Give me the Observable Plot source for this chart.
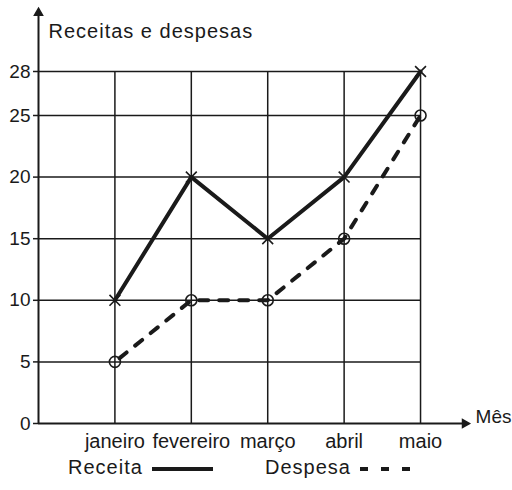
<!DOCTYPE html>
<html>
<head>
<meta charset="utf-8">
<script src="https://cdn.jsdelivr.net/npm/d3@7"></script>
<script src="https://cdn.jsdelivr.net/npm/@observablehq/plot@0.6"></script>
<style>
  body { margin: 0; background: #fff; font-family: "Liberation Sans", Arial, sans-serif; }
  #chart svg { display: block; }
  #legend { position: relative; width: 512px; height: 38px; color: #1a1a1a; font-size: 20px; letter-spacing: 1px; }
  #legend .item { position: absolute; top: 4px; display: flex; align-items: center; }
  #legend svg { display: block; margin-left: 9px; }
</style>
</head>
<body>
<div id="chart"></div>
<div id="legend"></div>
<script>
// ---- data ----
const months = ["janeiro", "fevereiro", "março", "abril", "maio"];
const receita = [10, 20, 15, 20, 28];
const despesa = [5, 10, 10, 15, 25];
const yTicks = [0, 5, 10, 15, 20, 25, 28];
const gridY = [5, 10, 15, 20, 25, 28];
const monthIdx = [0, 1, 2, 3, 4];
const title = "Receitas e despesas";
const xLabel = "Mês";
const legendLabels = ["Receita", "Despesa"];
const axisXStart = -1, axisXEnd = 4.55, arrowX = 4.58, xLabelPos = 4.72;
const axisYEnd = 32, arrowY = 32, titleY = 30.7;

const data = months.map((m, i) => ({i, m, receita: receita[i], despesa: despesa[i]}));

const ink = "#1a1a1a";
const font = '"Liberation Sans", Arial, sans-serif';

const chart = Plot.plot({
  width: 512,
  height: 452,
  marginLeft: 38,
  marginRight: 42,
  marginTop: 5,
  marginBottom: 29,
  style: {fontFamily: font, color: ink, background: "white"},
  x: {type: "linear", domain: [-1, 4.65], range: [38, 469.7]},
  y: {type: "linear", domain: [0, 25, 28, 32.5], range: [423, 115, 71, 5]},
  marks: [
    // grid
    Plot.ruleY(gridY, {x1: axisXStart, x2: 4, stroke: ink, strokeWidth: 1.5}),
    Plot.ruleX(monthIdx, {y1: 0, y2: 28, stroke: ink, strokeWidth: 1.5}),
    // axes lines
    Plot.ruleY([0], {x1: axisXStart, x2: axisXEnd, stroke: ink, strokeWidth: 2}),
    Plot.ruleX([axisXStart], {y1: 0, y2: axisYEnd, stroke: ink, strokeWidth: 2}),
    Plot.dot([0], {x: arrowX, y: 0, symbol: "triangle", r: 3, fill: ink, stroke: ink, rotate: 90}),
    Plot.dot([0], {x: axisXStart, y: arrowY, symbol: "triangle", r: 3, fill: ink, stroke: ink}),
    // axes
    Plot.axisY({ticks: yTicks, tickSize: 5, tickPadding: 3, fontSize: 19, label: null, stroke: ink, strokeWidth: 1.5}),
    Plot.axisX({ticks: monthIdx, tickFormat: i => months[i], tickSize: 0, tickPadding: 10, fontSize: 20, label: null}),
    Plot.text([xLabel], {x: xLabelPos, y: 0, text: d => d, textAnchor: "start", dy: -7, fontSize: 19, fill: ink}),
    Plot.text([title], {x: axisXStart, y: titleY, text: d => d, textAnchor: "start", dx: 10, fontSize: 20, fill: ink}),
    // series
    Plot.line(data, {x: "i", y: "despesa", stroke: ink, strokeWidth: 4, strokeDasharray: "9,11", strokeDashoffset: -6}),
    Plot.line(data, {x: "i", y: "receita", stroke: ink, strokeWidth: 4}),
    Plot.dot(data, {x: "i", y: "receita", symbol: "times", r: 5, stroke: ink, strokeWidth: 1.6}),
    Plot.dot(data, {x: "i", y: "despesa", symbol: "circle", r: 5.5, stroke: ink, strokeWidth: 1.6, fill: "none"})
  ]
});
// letter-spacing for title text
d3.select(chart).selectAll("text").filter(function() { return this.textContent === title; }).attr("letter-spacing", "1px");
document.getElementById("chart").appendChild(chart);

// ---- legend ----
const legend = d3.select("#legend");
const items = [
  {label: legendLabels[0], left: 68, width: 61, dash: null},
  {label: legendLabels[1], left: 265, width: 51, dash: "8,13"}
];
items.forEach(it => {
  const div = legend.append("div").attr("class", "item").style("left", it.left + "px");
  div.append("span").text(it.label);
  const s = div.append("svg").attr("width", it.width).attr("height", 10);
  s.append("line").attr("x1", 0).attr("x2", it.width).attr("y1", 6).attr("y2", 6)
    .attr("stroke", ink).attr("stroke-width", 4).attr("stroke-dasharray", it.dash);
});
</script>
</body>
</html>
